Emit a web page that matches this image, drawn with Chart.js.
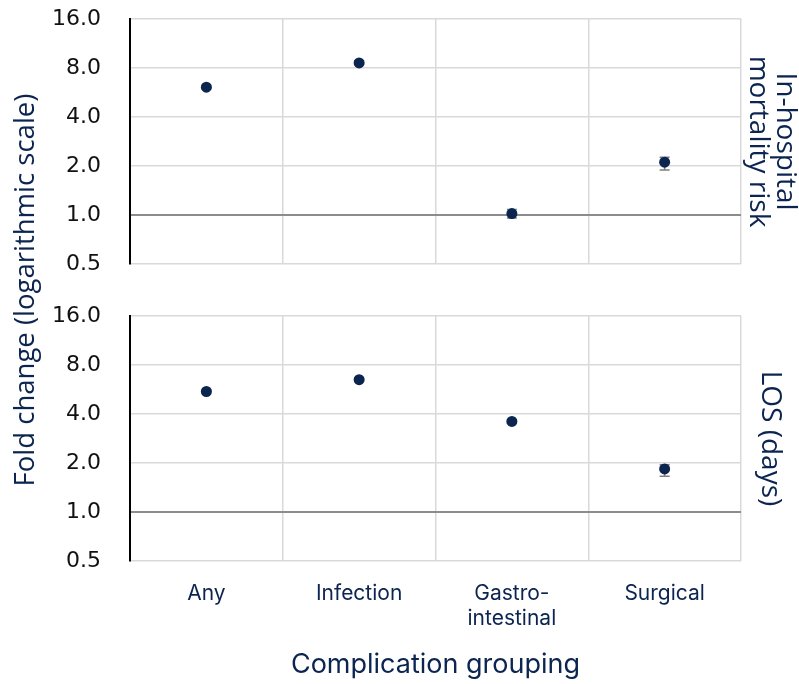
<!DOCTYPE html>
<html>
<head>
<meta charset="utf-8">
<script src="https://cdn.jsdelivr.net/npm/chart.js@4"></script>
<style>
  body { margin: 0; background: #fff; }
  #wrap { position: relative; width: 799px; height: 684px; }
  #top { position: absolute; left: 0; top: 0; }
  #bottom { position: absolute; left: 0; top: 280px; }
  #ytitle {
    position: absolute; left: -226px; top: 274px; width: 500px; height: 32px;
    line-height: 32px; text-align: center; transform: rotate(-90deg);
    font-family: "Open Sans", sans-serif; font-size: 27.5px; color: #0b2450;
  }
</style>
</head>
<body>
<div id="wrap">
  <canvas id="top" width="799" height="280"></canvas>
  <canvas id="bottom" width="799" height="404"></canvas>
  <div id="ytitle">Fold change (logarithmic scale)</div>
</div>
<script>
const categorias = ["Any", "Infection", ["Gastro-", "intestinal"], "Surgical"];
const yTicks = [0.5, 1, 2, 4, 8, 16];

// in-hospital mortality risk
const mortalidad = [6.1, 8.6, 1.02, 2.11];
const mortalidadLow = [5.95, 8.4, 0.96, 1.89];
const mortalidadHigh = [6.25, 8.85, 1.08, 2.26];

// LOS (days)
const estadia = [5.5, 6.5, 3.6, 1.84];
const estadiaLow = [5.4, 6.4, 3.52, 1.66];
const estadiaHigh = [5.6, 6.6, 3.68, 1.95];

const navy = "#0b2450";
const gridGray = "#d9d9d9";

const errorBars = {
  id: "errorBars",
  beforeDatasetsDraw(chart, args, opts) {
    const ctx = chart.ctx;
    const x = chart.scales.x;
    const y = chart.scales.y;
    ctx.save();
    ctx.strokeStyle = "#7f7f7f";
    ctx.lineWidth = 1.5;
    opts.low.forEach((lo, i) => {
      const px = x.getPixelForValue(i);
      const y1 = y.getPixelForValue(lo);
      const y2 = y.getPixelForValue(opts.high[i]);
      ctx.beginPath();
      ctx.moveTo(px, y1); ctx.lineTo(px, y2);
      ctx.moveTo(px - 5, y1); ctx.lineTo(px + 5, y1);
      ctx.moveTo(px - 5, y2); ctx.lineTo(px + 5, y2);
      ctx.stroke();
    });
    ctx.restore();
  }
};

function makeChart(id, valores, low, high, rightTitle, rightPad, showX, padding) {
  return new Chart(document.getElementById(id), {
    type: "line",
    data: {
      labels: categorias,
      datasets: [{
        data: valores,
        showLine: false,
        pointRadius: 5.5,
        pointHoverRadius: 5.5,
        pointBackgroundColor: navy,
        pointBorderColor: navy,
        pointBorderWidth: 0
      }]
    },
    plugins: [errorBars],
    options: {
      responsive: false,
      animation: false,
      layout: { padding: padding },
      plugins: {
        legend: { display: false },
        tooltip: { enabled: false },
        errorBars: { low: low, high: high }
      },
      scales: {
        x: {
          type: "category",
          offset: true,
          grid: { offset: true, color: gridGray, lineWidth: 1.5, drawTicks: false },
          border: { display: false },
          ticks: {
            display: showX,
            color: navy,
            font: { family: "Inter", size: 21, lineHeight: 1.2 },
            padding: 20,
            maxRotation: 0
          },
          title: {
            display: showX,
            text: "Complication grouping",
            color: navy,
            font: { family: "Inter", size: 27 },
            padding: { top: 0, bottom: 3 }
          },
          afterFit: s => { if (showX) s.height = 123; }
        },
        y: {
          type: "logarithmic",
          position: "left",
          min: 0.5,
          max: 16,
          afterBuildTicks: s => { s.ticks = yTicks.map(v => ({ value: v })); },
          afterFit: s => { s.width = 130; },
          ticks: {
            color: "#111",
            font: { family: "DejaVu Sans", size: 22 },
            padding: 0,
            callback: v => Number(v).toFixed(1)
          },
          grid: {
            drawTicks: true,
            tickLength: 29,
            tickColor: "rgba(0,0,0,0)",
            color: c => c.tick && c.tick.value === 1 ? "#8c8c8c" : gridGray,
            lineWidth: c => c.tick && c.tick.value === 1 ? 2 : 1.5
          },
          border: { color: "#000", width: 2 }
        },
        y2: {
          type: "linear",
          position: "right",
          ticks: { display: false },
          grid: { display: false },
          border: { display: false },
          afterFit: s => { s.width = 58; },
          title: {
            display: true,
            text: rightTitle,
            color: navy,
            font: { family: "Open Sans", size: 28, lineHeight: 0.97 },
            padding: { top: rightPad, bottom: 0 }
          }
        }
      }
    }
  });
}

makeChart("top", mortalidad, mortalidadLow, mortalidadHigh,
  ["In-hospital", "mortality risk"], 0, false, { top: 19, bottom: 16, left: 0, right: 0 });
makeChart("bottom", estadia, estadiaLow, estadiaHigh,
  "LOS (days)", 15, true, { top: 36, bottom: 0, left: 0, right: 0 });
</script>
</body>
</html>
